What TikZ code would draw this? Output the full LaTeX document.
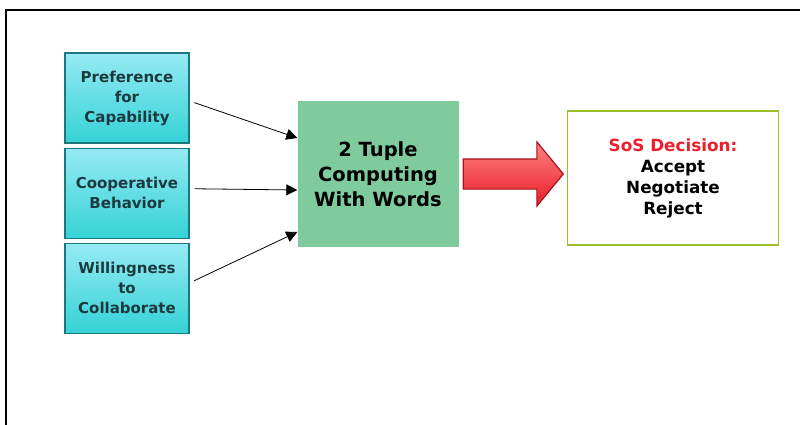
\documentclass[tikz,border=0pt]{standalone}
\usepackage{fontspec}
\setmainfont{DejaVu Sans}
\usetikzlibrary{arrows.meta,positioning,shapes.arrows}

\definecolor{cyantop}{RGB}{150,234,244}
\definecolor{cyanbot}{RGB}{52,210,214}
\definecolor{cyanedge}{RGB}{28,120,122}
\definecolor{factortext}{RGB}{28,58,62}
\definecolor{cwwgreen}{RGB}{128,203,158}
\definecolor{flowtop}{RGB}{255,130,130}
\definecolor{flowbot}{RGB}{232,30,40}
\definecolor{flowedge}{RGB}{170,16,32}
\definecolor{sosedge}{RGB}{154,190,40}
\definecolor{sosred}{RGB}{236,32,44}

\begin{document}
\begin{tikzpicture}[x=1pt,y=-1pt,>={Triangle[length=11pt,width=11pt]},node distance=4pt]
  \tikzstyle{factor}=[draw=cyanedge,line width=1.2pt,top color=cyantop,bottom color=cyanbot,text=factortext,minimum width=124pt,minimum height=90pt,align=center,font=\fontsize{15}{20}\selectfont\bfseries]
  \tikzstyle{cwwbox}=[fill=cwwgreen,minimum width=161pt,minimum height=146pt,align=center,font=\fontsize{19.5}{25}\selectfont\bfseries]
  \tikzstyle{flow}=[single arrow,draw=flowedge,line width=1.2pt,top color=flowtop,bottom color=flowbot,inner sep=0pt,text height=29pt,text depth=0pt,single arrow head extend=17pt,single arrow tip angle=101,minimum height=100pt]
  \tikzstyle{decision}=[draw=sosedge,line width=1.6pt,fill=white,minimum width=211pt,minimum height=134pt,align=center,font=\fontsize{16.8}{21}\selectfont\bfseries]
  \tikzstyle{feed}=[->,line width=0.8pt,shorten <=5pt]
\useasboundingbox (0,0) rectangle (800,425);
\draw[line width=1.8pt] (6,425) |- (800,10);
\node[factor] (pref) at (127,98) {Preference\\for\\Capability};
\node[factor] (coop) [below=of pref] {Cooperative\\Behavior};
\node[factor] (will) [below=of coop] {Willingness\\to\\Collaborate};
\node[cwwbox] (cww) at (378,174) {2 Tuple\\Computing\\With Words};
\node[flow] (arrow) [right=of cww] {};
\node[decision] (sos) at (673,178) {\textcolor{sosred}{SoS Decision:}\\Accept\\Negotiate\\Reject};
\draw[feed] ([yshift=-3pt]pref.east) -- ([yshift=36pt]cww.west);
\draw[feed] ([yshift=4.5pt]coop.east) -- ([yshift=-16pt]cww.west);
\draw[feed] ([yshift=5.5pt]will.east) -- ([yshift=-58pt]cww.west);
\end{tikzpicture}
\end{document}
